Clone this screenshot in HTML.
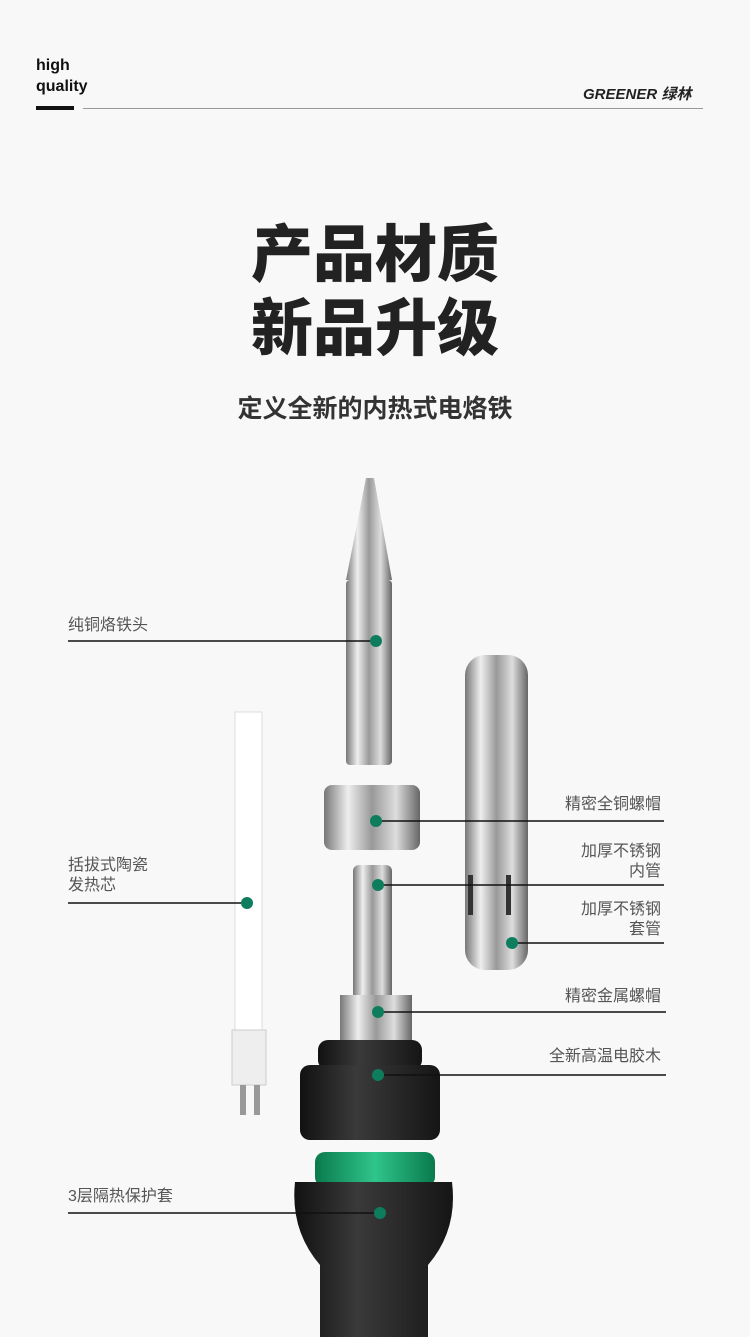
<!DOCTYPE html>
<html><head><meta charset="utf-8"><style>
body{margin:0;background:#f8f8f8;}
.w{position:relative;width:750px;height:1337px;overflow:hidden;background:#f8f8f8;font-family:"Liberation Sans","Noto Sans CJK SC",sans-serif;}
.t{position:absolute;white-space:nowrap;}
.lb{font-size:16px;color:#555;line-height:20px;}
</style></head><body><div class="w">
<div class="t" style="left:36px;top:55px;font-size:16px;font-weight:bold;color:#111;line-height:21px;">high<br>quality</div>
<div class="t" style="left:36px;top:106px;width:38px;height:4px;background:#111"></div>
<div class="t" style="left:83px;top:108px;width:620px;height:1px;background:#999"></div>
<div class="t" style="left:583px;top:83px;font-size:15px;font-weight:bold;font-style:italic;color:#222">GREENER 绿林</div>
<div class="t" style="left:0;width:750px;text-align:center;top:212px;font-size:62px;font-weight:900;color:#222;line-height:74px;font-family:'Noto Sans CJK SC',sans-serif">产品材质<br>新品升级</div>
<div class="t" style="left:0;width:750px;text-align:center;top:389px;font-size:25px;font-weight:bold;color:#333;font-family:'Noto Sans CJK SC',sans-serif">定义全新的内热式电烙铁</div>
<svg class="t" style="left:0;top:0" width="750" height="1337">
<defs>
<linearGradient id="m" x1="0" x2="1"><stop offset="0" stop-color="#777"/><stop offset=".25" stop-color="#eee"/><stop offset=".5" stop-color="#999"/><stop offset=".75" stop-color="#ddd"/><stop offset="1" stop-color="#666"/></linearGradient>
<linearGradient id="b" x1="0" x2="1"><stop offset="0" stop-color="#111"/><stop offset=".4" stop-color="#3a3a3a"/><stop offset="1" stop-color="#151515"/></linearGradient>
<linearGradient id="g" x1="0" x2="1"><stop offset="0" stop-color="#0a7a4c"/><stop offset=".5" stop-color="#2fc58a"/><stop offset="1" stop-color="#0a7a4c"/></linearGradient>
</defs>
<path d="M366 478 L374 478 L392 580 L346 580 Z" fill="url(#m)"/>
<rect x="346" y="580" width="46" height="185" rx="4" fill="url(#m)"/>
<rect x="324" y="785" width="96" height="65" rx="8" fill="url(#m)"/>
<rect x="353" y="865" width="39" height="135" rx="6" fill="url(#m)"/>
<rect x="340" y="995" width="72" height="48" fill="url(#m)"/>
<rect x="465" y="655" width="63" height="315" rx="20" fill="url(#m)"/>
<rect x="468" y="875" width="5" height="40" fill="#333"/><rect x="506" y="875" width="5" height="40" fill="#333"/>
<rect x="235" y="712" width="27" height="320" fill="#fff" stroke="#ddd"/>
<rect x="232" y="1030" width="34" height="55" fill="#eee" stroke="#ccc"/>
<rect x="240" y="1085" width="6" height="30" fill="#999"/><rect x="254" y="1085" width="6" height="30" fill="#999"/>
<rect x="318" y="1040" width="104" height="30" rx="10" fill="url(#b)"/>
<rect x="300" y="1065" width="140" height="75" rx="10" fill="url(#b)"/>
<rect x="315" y="1152" width="120" height="35" rx="10" fill="url(#g)"/>
<path d="M295 1182 L452 1182 Q458 1230 428 1265 L428 1337 L320 1337 L320 1265 Q290 1230 295 1182 Z" fill="url(#b)"/>
<g stroke="#111" stroke-width="1.6">
<line x1="68" y1="641" x2="376" y2="641"/>
<line x1="376" y1="821" x2="664" y2="821"/>
<line x1="378" y1="885" x2="664" y2="885"/>
<line x1="512" y1="943" x2="664" y2="943"/>
<line x1="378" y1="1012" x2="666" y2="1012"/>
<line x1="378" y1="1075" x2="666" y2="1075"/>
<line x1="68" y1="903" x2="247" y2="903"/>
<line x1="68" y1="1213" x2="380" y2="1213"/>
</g>
<g fill="#0e7d5e">
<circle cx="376" cy="641" r="6"/><circle cx="376" cy="821" r="6"/><circle cx="378" cy="885" r="6"/><circle cx="512" cy="943" r="6"/>
<circle cx="378" cy="1012" r="6"/><circle cx="378" cy="1075" r="6"/><circle cx="247" cy="903" r="6"/><circle cx="380" cy="1213" r="6"/>
</g>
</svg>
<div class="t lb" style="left:68px;top:616px">纯铜烙铁头</div>
<div class="t lb" style="right:89px;top:795px;text-align:right">精密全铜螺帽</div>
<div class="t lb" style="right:89px;top:842px;text-align:right">加厚不锈钢<br>内管</div>
<div class="t lb" style="right:89px;top:900px;text-align:right">加厚不锈钢<br>套管</div>
<div class="t lb" style="right:89px;top:987px;text-align:right">精密金属螺帽</div>
<div class="t lb" style="right:89px;top:1047px;text-align:right">全新高温电胶木</div>
<div class="t lb" style="left:68px;top:856px">括拔式陶瓷<br>发热芯</div>
<div class="t lb" style="left:68px;top:1187px">3层隔热保护套</div>
</div></body></html>
